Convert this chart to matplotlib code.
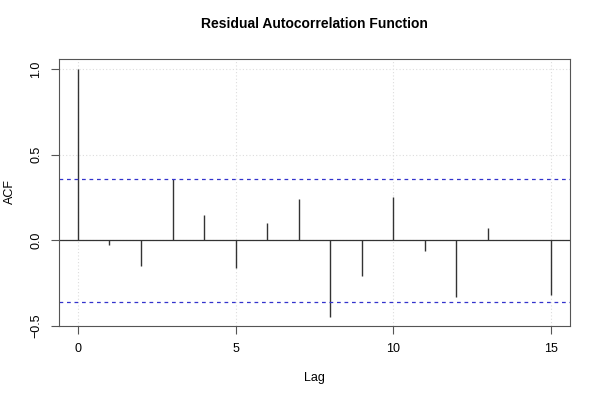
import matplotlib
matplotlib.use("Agg")
import matplotlib.pyplot as plt
import numpy as np

plt.rcParams['font.family'] = ['Liberation Sans', 'DejaVu Sans']

lags = np.arange(16)
acf = [1.0, -0.03, -0.15, 0.36, 0.15, -0.16, 0.10, 0.24,
       -0.45, -0.21, 0.25, -0.065, -0.33, 0.07, 0.004, -0.32]
conf = 0.358

fig = plt.figure(figsize=(6, 4), dpi=100)
ax = fig.add_axes([59/600, 74/400, 511/600, 267/400])

# grid
for x in [0, 5, 10, 15]:
    ax.axvline(x, color='#dddddd', lw=0.8, ls=(0, (1, 2)), zorder=0)
for y in [-0.5, 0, 0.5, 1.0]:
    ax.axhline(y, color='#dddddd', lw=0.8, ls=(0, (1, 2)), zorder=0)

ax.vlines(lags, 0, acf, color='#333333', lw=1)
ax.axhline(0, color='#333333', lw=0.9)
ax.axhline(conf, color='#3333cc', lw=0.9, ls=(0, (3, 3)))
ax.axhline(-conf, color='#3333cc', lw=0.9, ls=(0, (3, 3)))

ax.set_xlim(-0.6, 15.6)
ax.set_ylim(-0.5, 1.058)
ax.set_xticks([0, 5, 10, 15])
ax.set_yticks([-0.5, 0.0, 0.5, 1.0])
ax.set_yticklabels(['\u22120.5', '0.0', '0.5', '1.0'], rotation=90, va='center')
ax.tick_params(direction='out', length=6, labelsize=9, color='#555555', pad=6)
for s in ax.spines.values():
    s.set_color('#555555')

fig.text(0.5 * (59 + 570) / 600, 1 - 24/400, 'Residual Autocorrelation Function',
         fontsize=10, fontweight='bold', ha='center', va='center')
fig.text(0.5 * (59 + 570) / 600, 1 - 378/400, 'Lag', fontsize=9, ha='center', va='center')
fig.text(10/600, 1 - 192/400, 'ACF', fontsize=9, ha='center', va='center', rotation=90)

fig.savefig('out.png', dpi=100)
